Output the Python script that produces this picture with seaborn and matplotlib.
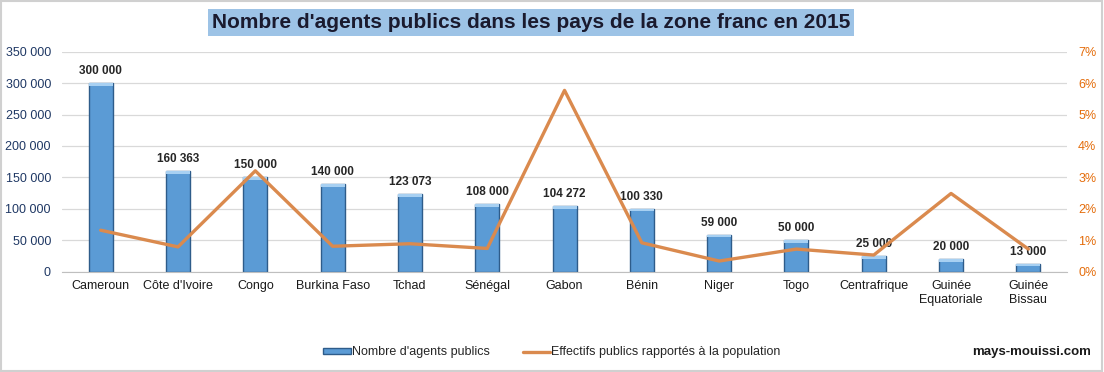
import numpy as np
import pandas as pd
import matplotlib
matplotlib.use("Agg")
import matplotlib.pyplot as plt
import seaborn as sns
from matplotlib.patches import Rectangle

pays = ["Cameroun", "Côte d'Ivoire", "Congo", "Burkina Faso", "Tchad", "Sénégal",
        "Gabon", "Bénin", "Niger", "Togo", "Centrafrique",
        "Guinée\nEquatoriale", "Guinée\nBissau"]
agents = [300000, 160363, 150000, 140000, 123073, 108000, 104272, 100330,
          59000, 50000, 25000, 20000, 13000]
part_pop = [1.32, 0.79, 3.21, 0.81, 0.89, 0.74, 5.77, 0.92, 0.34, 0.72, 0.53, 2.49, 0.72]
etiquettes = ["300 000", "160 363", "150 000", "140 000", "123 073", "108 000",
              "104 272", "100 330", "59 000", "50 000", "25 000", "20 000", "13 000"]

df = pd.DataFrame({"pays": pays, "agents": agents, "part": part_pop})

sns.set_style("white")
plt.rcParams['font.family'] = ['Liberation Sans', 'DejaVu Sans']

fig = plt.figure(figsize=(11.04, 3.72), dpi=100)
ax = fig.add_axes([0.0562, 0.2696, 0.9103, 0.5914])

sns.barplot(data=df, x="pays", y="agents", color="#5B9BD5", width=0.31,
            edgecolor="#2E5C8A", linewidth=1.0, saturation=1, ax=ax, zorder=2,
            label="Nombre d'agents publics")
# lighter top cap for the cylinder look
for p in list(ax.patches):
    x0, w, h = p.get_x(), p.get_width(), p.get_height()
    ax.add_patch(Rectangle((x0, h - 4500), w, 4500, color="#A7D0F2", zorder=3, lw=0))

for i, (v, t) in enumerate(zip(agents, etiquettes)):
    ax.text(i, v + 9500, t, ha="center", va="bottom", fontsize=8.5,
            fontweight="bold", color="#262626")

ax.set_ylim(0, 350000)
ax.set_xlim(-0.5, len(pays) - 0.5)
ax.set_yticks(np.arange(0, 350001, 50000))
ax.set_yticklabels([f"{int(v):,}".replace(",", " ") for v in np.arange(0, 350001, 50000)],
                   fontsize=9, color="#1F3864")
ax.set_xlabel("")
ax.set_ylabel("")
ax.tick_params(axis="x", labelsize=9, colors="#1A1A1A", length=0, pad=6)
ax.tick_params(axis="y", length=0, pad=8)
ax.grid(axis="y", color="#D9D9D9", linewidth=0.9, zorder=0)
ax.set_axisbelow(True)
for s in ["top", "right", "left"]:
    ax.spines[s].set_visible(False)
ax.spines["bottom"].set_color("#BFBFBF")

ax2 = ax.twinx()
sns.lineplot(x=np.arange(len(pays)), y=part_pop, color="#DA8A4E", linewidth=2.4,
             ax=ax2, zorder=4, label="Effectifs publics rapportés à la population")
ax2.set_ylim(0, 7)
ax2.set_yticks(range(0, 8))
ax2.set_yticklabels([f"{v}%" for v in range(0, 8)], fontsize=9, color="#E46C0A")
ax2.tick_params(axis="y", length=0, pad=8)
for s in ax2.spines.values():
    s.set_visible(False)
ax2.grid(False)

h1, l1 = ax.get_legend_handles_labels()
h2, l2 = ax2.get_legend_handles_labels()
if ax.get_legend():
    ax.get_legend().remove()
if ax2.get_legend():
    ax2.get_legend().remove()
fig.legend(h1 + h2, l1 + l2, loc="center", bbox_to_anchor=(0.5, 0.053), ncol=2,
           frameon=False, fontsize=9, handlelength=2.2, handleheight=0.35,
           handletextpad=0.1, columnspacing=2.6, labelcolor="#262626")

fig.text(0.481, 0.9395, "Nombre d'agents publics dans les pays de la zone franc en 2015",
         ha="center", va="center", fontsize=15, fontweight="bold", color="#1A1A2E",
         bbox=dict(boxstyle="square,pad=0.2", facecolor="#9DC3E6", edgecolor="none"))
fig.text(0.988, 0.053, "mays-mouissi.com", ha="right", va="center", fontsize=9.5,
         fontweight="bold", color="#1A1A1A")

fig.patches.append(Rectangle((0.001, 0.002), 0.997, 0.995, transform=fig.transFigure,
                             fill=False, edgecolor="#D0D0D0", linewidth=1.5))

fig.savefig("out.png", dpi=100)
